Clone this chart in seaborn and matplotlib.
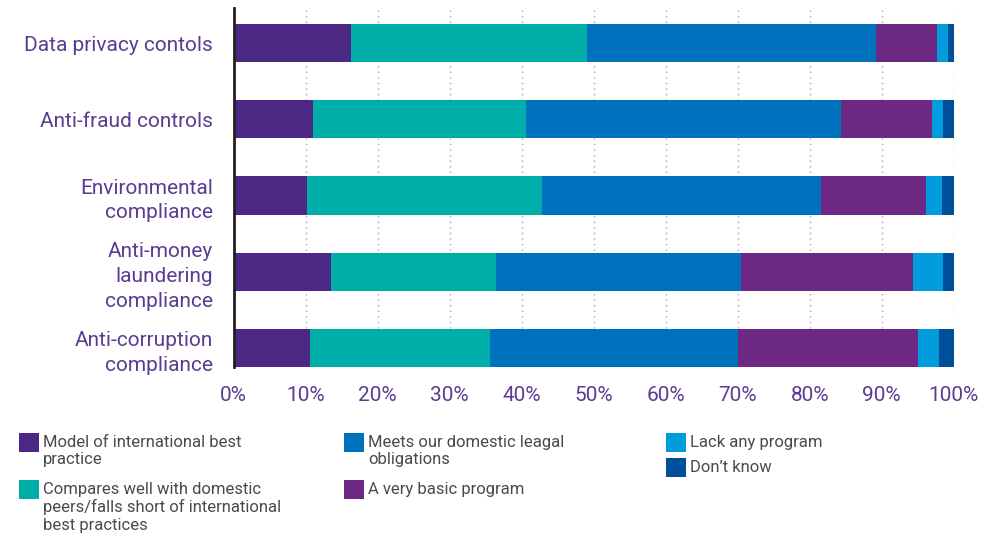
import numpy as np
import pandas as pd
import seaborn as sns
import matplotlib.pyplot as plt
from matplotlib.patches import Rectangle

# Survey categories (y axis, top to bottom)
categories = [
    "Data privacy contols",
    "Anti-fraud controls",
    "Environmental\ncompliance",
    "Anti-money\nlaundering\ncompliance",
    "Anti-corruption\ncompliance",
]

# Response shares (%) for each category
model = [16.3, 11.0, 10.2, 13.5, 10.6]
compares = [32.8, 29.6, 32.6, 23.0, 25.0]
meets = [40.1, 43.8, 38.8, 34.0, 34.4]
basic = [8.5, 12.6, 14.5, 23.9, 25.1]
lack = [1.5, 1.5, 2.3, 4.1, 2.9]
dont_know = [0.8, 1.5, 1.6, 1.5, 2.0]

series_labels = [
    "Model of international best\npractice",
    "Compares well with domestic\npeers/falls short of international\nbest practices",
    "Meets our domestic leagal\nobligations",
    "A very basic program",
    "Lack any program",
    "Don\u2019t know",
]
colors = ["#4B2883", "#00AEA9", "#0071BC", "#6C2883", "#009CDC", "#004F99"]

xticks = [0, 10, 20, 30, 40, 50, 60, 70, 80, 90, 100]
xtick_labels = [f"{t}%" for t in xticks]

sns.set_theme(style="white")
plt.rcParams["font.family"] = ["Roboto", "DejaVu Sans"]

values = np.array([model, compares, meets, basic, lack, dont_know])
cum = values.cumsum(axis=0)

fig = plt.figure(figsize=(10, 5.34), dpi=100)
ax = fig.add_axes([0.2335, 1 - 367 / 534, 0.9537 - 0.2335, (367 - 8) / 534])

# Stacked horizontal bars: draw cumulative totals from widest to narrowest
for i in range(len(series_labels) - 1, -1, -1):
    df = pd.DataFrame({"category": categories, "total": cum[i]})
    sns.barplot(data=df, x="total", y="category", order=categories,
                color=colors[i], saturation=1, width=0.5, orient="h",
                errorbar=None, linewidth=0, ax=ax)

ax.set_xlim(0, 100)
ax.set_ylim(4.25, -0.46)
ax.set_xlabel("")
ax.set_ylabel("")

ax.set_xticks(xticks)
ax.set_xticklabels(xtick_labels)
ax.tick_params(axis="x", length=0, pad=14, labelsize=15, labelcolor="#5A3D92")
ax.tick_params(axis="y", length=0, pad=15, labelsize=15, labelcolor="#5A3D92")
for lbl in ax.get_yticklabels():
    lbl.set_linespacing(1.38)

ax.set_axisbelow(True)
ax.xaxis.grid(True, linestyle=(0, (1, 3)), color="#a8a8a8", linewidth=1.0)
ax.yaxis.grid(False)
for side in ["top", "right", "bottom"]:
    ax.spines[side].set_visible(False)
ax.spines["left"].set_color("#231F20")
ax.spines["left"].set_linewidth(2)
ax.spines["left"].set_zorder(10)

# Legend laid out in three columns below the chart
W, H = 1000, 534
legend_items = [
    (0, 19, 433), (1, 19, 480),
    (2, 344, 433), (3, 344, 480),
    (4, 666, 433), (5, 666, 458),
]
for idx, x, y in legend_items:
    fig.add_artist(Rectangle((x / W, 1 - (y + 19) / H), 20 / W, 19 / H,
                             transform=fig.transFigure, color=colors[idx],
                             linewidth=0))
    fig.text((x + 24) / W, 1 - (y + 2) / H, series_labels[idx],
             ha="left", va="top", fontsize=12, color="#4a4a4a",
             linespacing=1.18)

fig.savefig("out.png", dpi=100)
